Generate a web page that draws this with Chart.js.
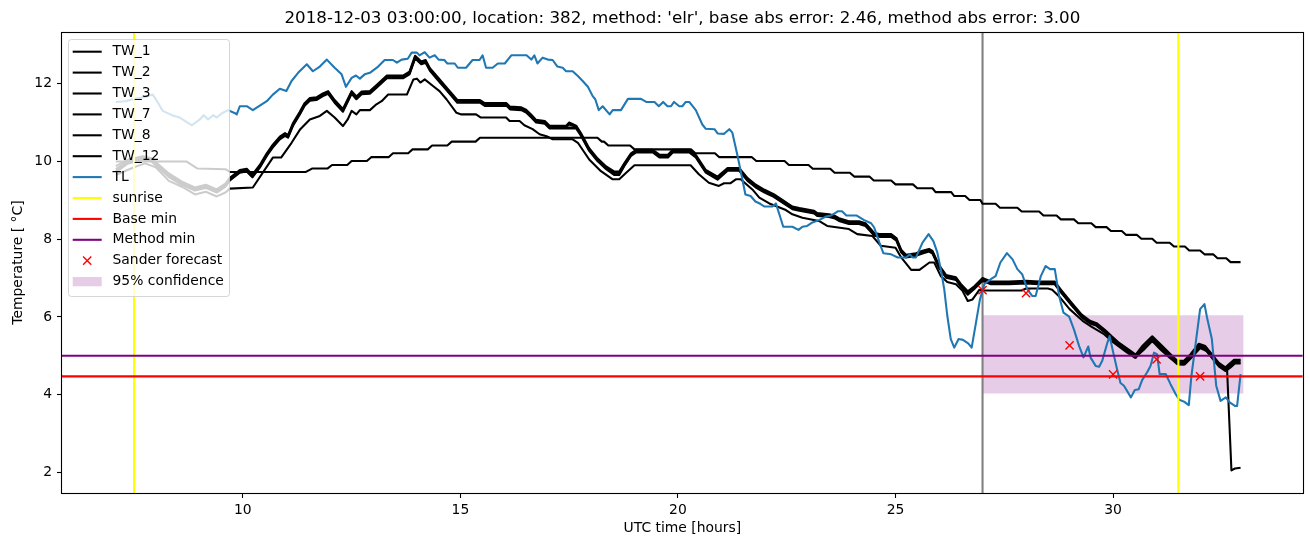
<!DOCTYPE html>
<html>
<head>
<meta charset="utf-8">
<title>Forecast 2018-12-03 location 382</title>
<script src="https://cdn.jsdelivr.net/npm/chart.js@4.4.1/dist/chart.umd.min.js"></script>
<style>
  html, body { margin: 0; padding: 0; background: #fff; }
  canvas { display: block; }
</style>
</head>
<body>
<canvas id="chart" width="1310" height="547"></canvas>
<script>
const TITLE = "2018-12-03 03:00:00, location: 382, method: 'elr', base abs error: 2.46, method abs error: 3.00";

// axis ranges and ticks (hours, deg C)
const X_MIN = 5.844, X_MAX = 34.36;
const Y_MIN = 1.47, Y_MAX = 13.33;
const X_TICKS = [10, 15, 20, 25, 30];
const Y_TICKS = [2, 4, 6, 8, 10, 12];

// shared time axis of the four bundled sensors
const T_BUNDLE = [
  7.08, 7.35, 7.7, 7.9, 8.3, 8.6, 8.9, 9.15, 9.4, 9.6,
  9.7, 9.93, 10.09, 10.22, 10.39, 10.55, 10.69, 10.85, 10.97, 11.04,
  11.15, 11.31, 11.42, 11.54, 11.69, 11.84, 11.96, 12.11, 12.3, 12.5,
  12.61, 12.73, 12.92, 13.08, 13.31, 13.68, 13.83, 13.96, 14.1, 14.2,
  14.3, 14.5, 14.7, 14.93, 15.45, 15.56, 16.06, 16.14, 16.4, 16.51,
  16.63, 16.74, 16.94, 17.05, 17.43, 17.5, 17.66, 17.77, 17.96, 18.15,
  18.35, 18.54, 18.65, 18.77, 18.92, 19.04, 19.42, 19.58, 19.77, 19.88,
  20.26, 20.41, 20.64, 20.91, 21.14, 21.41, 21.6, 21.79, 21.99, 22.2,
  22.4, 22.63, 22.79, 23.13, 23.2, 23.47, 23.59, 23.7, 23.93, 24.16,
  24.31, 24.51, 24.63, 24.9, 25.02, 25.13, 25.24, 25.47, 25.62, 25.77,
  25.85, 26.0, 26.16, 26.39, 26.5, 26.66, 26.81, 27.0, 27.19, 27.6,
  28.0, 28.3, 28.66, 28.8, 29.05, 29.28, 29.47, 29.62, 29.81, 29.97,
  30.14, 30.36, 30.52, 30.67, 30.9, 31.13, 31.32, 31.47, 31.63, 31.78,
  31.97, 32.12, 32.27, 32.43, 32.58, 32.66, 32.78, 32.93
];
const TW_1 = [
  9.8, 10.0, 10.1, 10.05, 9.65, 9.45, 9.3, 9.37, 9.25, 9.4,
  9.55, 9.75, 9.78, 9.63, 9.88, 10.18, 10.4, 10.61, 10.7, 10.65,
  10.95, 11.25, 11.47, 11.6, 11.62, 11.72, 11.78, 11.55, 11.32, 11.78,
  11.64, 11.77, 11.78, 11.94, 12.18, 12.18, 12.28, 12.69, 12.54, 12.58,
  12.37, 12.11, 11.85, 11.55, 11.55, 11.47, 11.47, 11.38, 11.36, 11.3,
  11.17, 11.04, 11.01, 10.89, 10.89, 10.95, 10.89, 10.7, 10.31, 10.05,
  9.84, 9.71, 9.71, 9.93, 10.18, 10.27, 10.27, 10.14, 10.14, 10.27,
  10.27, 10.14, 9.75, 9.58, 9.8, 9.8, 9.54, 9.37, 9.24, 9.13,
  8.98, 8.81, 8.77, 8.7, 8.64, 8.61, 8.58, 8.51, 8.43, 8.43,
  8.38, 8.13, 8.1, 8.1, 8.0, 7.7, 7.57, 7.61, 7.67, 7.72,
  7.67, 7.3, 7.05, 6.99, 6.82, 6.63, 6.76, 6.97, 6.88, 6.88,
  6.9, 6.88, 6.88, 6.67, 6.33, 6.03, 5.87, 5.81, 5.64, 5.47,
  5.3, 5.13, 5.0, 5.21, 5.45, 5.21, 5.0, 4.84, 4.83, 5.0,
  5.27, 5.21, 5.0, 4.78, 4.66, 4.74, 4.87, 4.87
];
const TW_2 = [
  9.88, 10.04, 10.13, 10.08, 9.69, 9.48, 9.33, 9.4, 9.28, 9.43,
  9.58, 9.78, 9.81, 9.66, 9.91, 10.21, 10.43, 10.64, 10.73, 10.68,
  10.98, 11.28, 11.5, 11.63, 11.65, 11.75, 11.81, 11.58, 11.35, 11.81,
  11.67, 11.8, 11.81, 11.97, 12.21, 12.21, 12.31, 12.72, 12.57, 12.61,
  12.4, 12.14, 11.88, 11.58, 11.58, 11.5, 11.5, 11.41, 11.39, 11.33,
  11.2, 11.07, 11.04, 10.92, 10.92, 11.0, 10.92, 10.73, 10.34, 10.08,
  9.87, 9.74, 9.74, 9.96, 10.21, 10.3, 10.3, 10.17, 10.17, 10.3,
  10.3, 10.17, 9.78, 9.61, 9.83, 9.83, 9.57, 9.4, 9.27, 9.16,
  9.01, 8.84, 8.8, 8.73, 8.67, 8.64, 8.61, 8.54, 8.46, 8.46,
  8.41, 8.16, 8.13, 8.13, 8.03, 7.73, 7.6, 7.64, 7.7, 7.75,
  7.7, 7.33, 7.08, 7.02, 6.85, 6.66, 6.79, 7.0, 6.91, 6.91,
  6.93, 6.91, 6.91, 6.7, 6.36, 6.06, 5.9, 5.84, 5.67, 5.5,
  5.33, 5.16, 5.03, 5.25, 5.5, 5.25, 5.04, 4.88, 4.87, 5.04,
  5.31, 5.25, 5.04, 4.82, 4.7, 4.78, 4.9, 4.9
];
const TW_3 = [
  9.72, 9.94, 10.05, 10.0, 9.6, 9.4, 9.25, 9.32, 9.2, 9.35,
  9.51, 9.71, 9.74, 9.59, 9.84, 10.14, 10.36, 10.57, 10.66, 10.61,
  10.91, 11.21, 11.43, 11.56, 11.58, 11.68, 11.74, 11.51, 11.28, 11.74,
  11.6, 11.73, 11.74, 11.9, 12.14, 12.14, 12.24, 12.65, 12.5, 12.54,
  12.33, 12.07, 11.81, 11.51, 11.51, 11.43, 11.43, 11.34, 11.32, 11.26,
  11.13, 11.0, 10.97, 10.85, 10.85, 10.85, 10.85, 10.66, 10.27, 10.01,
  9.8, 9.65, 9.65, 9.89, 10.14, 10.23, 10.23, 10.1, 10.1, 10.23,
  10.23, 10.1, 9.71, 9.53, 9.76, 9.76, 9.5, 9.33, 9.2, 9.09,
  8.94, 8.77, 8.73, 8.66, 8.6, 8.57, 8.54, 8.47, 8.39, 8.39,
  8.34, 8.09, 8.06, 8.06, 7.96, 7.66, 7.53, 7.57, 7.63, 7.68,
  7.63, 7.26, 7.01, 6.95, 6.78, 6.57, 6.72, 6.93, 6.84, 6.84,
  6.86, 6.84, 6.84, 6.63, 6.29, 5.99, 5.83, 5.77, 5.6, 5.43,
  5.26, 5.09, 4.95, 5.16, 5.4, 5.16, 4.95, 4.79, 4.78, 4.95,
  5.22, 5.16, 4.95, 4.73, 4.61, 4.69, 4.82, 4.82
];
// TW_12 follows the bundle and then drops at the very end
const T_TW12 = T_BUNDLE.slice(0, 135).concat([32.62, 32.72, 32.8, 32.93]);
const TW_12 = [
  9.75, 9.97, 10.08, 10.02, 9.62, 9.42, 9.27, 9.34, 9.22, 9.37,
  9.52, 9.73, 9.76, 9.61, 9.86, 10.16, 10.38, 10.59, 10.68, 10.63,
  10.93, 11.23, 11.45, 11.58, 11.6, 11.7, 11.76, 11.53, 11.3, 11.76,
  11.62, 11.75, 11.76, 11.92, 12.16, 12.16, 12.26, 12.67, 12.52, 12.56,
  12.35, 12.09, 11.83, 11.53, 11.53, 11.45, 11.45, 11.36, 11.34, 11.28,
  11.15, 11.02, 10.99, 10.87, 10.87, 10.87, 10.87, 10.68, 10.29, 10.03,
  9.82, 9.67, 9.67, 9.9, 10.16, 10.25, 10.25, 10.12, 10.12, 10.25,
  10.25, 10.12, 9.73, 9.55, 9.78, 9.78, 9.52, 9.35, 9.22, 9.11,
  8.96, 8.79, 8.75, 8.68, 8.62, 8.59, 8.56, 8.49, 8.41, 8.41,
  8.36, 8.11, 8.08, 8.08, 7.98, 7.68, 7.55, 7.59, 7.65, 7.7,
  7.65, 7.28, 7.03, 6.97, 6.8, 6.6, 6.74, 6.95, 6.86, 6.86,
  6.88, 6.86, 6.86, 6.65, 6.31, 6.01, 5.85, 5.79, 5.62, 5.45,
  5.28, 5.11, 4.97, 5.19, 5.43, 5.19, 4.98, 4.82, 4.81, 4.98,
  5.25, 5.19, 4.98, 4.76, 4.64, 4.64, 2.05, 2.1, 2.12
];
// TW_7: the lower warm-phase sensor
const T_TW7 = [
  7.08, 7.5, 7.75, 8.0, 8.3, 8.6, 8.9, 9.15, 9.4, 9.6,
  9.7, 10.23, 10.69, 10.88, 11.12, 11.32, 11.54, 11.77, 11.93, 12.11,
  12.3, 12.41, 12.5, 12.61, 12.69, 12.92, 13.07, 13.19, 13.34, 13.77,
  13.92, 14.0, 14.08, 14.18, 14.37, 14.52, 14.68, 14.91, 15.02, 15.36,
  15.47, 16.05, 16.13, 16.36, 16.47, 16.66, 16.82, 16.98, 17.12, 17.58,
  17.7, 17.96, 18.23, 18.5, 18.65, 18.81, 19.0, 20.29, 20.48, 20.71,
  20.94, 21.06, 21.21, 21.33, 21.44, 21.71, 21.87, 22.1, 22.48, 22.63,
  22.86, 23.24, 23.43, 23.93, 24.12, 24.47, 24.66, 25.0, 25.13, 25.36,
  25.55, 25.78, 25.89, 26.04, 26.19, 26.39, 26.54, 26.66, 26.77, 26.93,
  27.05, 27.9, 28.0, 28.5, 28.6, 28.75, 29.0, 29.3, 29.5, 29.8,
  30.0, 30.3, 30.5, 30.7, 30.9, 31.1, 31.3, 31.5, 31.65, 31.8,
  32.0, 32.15, 32.3, 32.45, 32.6, 32.7, 32.8, 32.93
];
const TW_7 = [
  9.65, 9.85, 9.95, 9.85, 9.5, 9.35, 9.15, 9.22, 9.1, 9.2,
  9.3, 9.33, 10.1, 10.1, 10.48, 10.83, 11.08, 11.17, 11.3, 11.13,
  10.91, 11.08, 11.3, 11.21, 11.32, 11.32, 11.47, 11.55, 11.72, 11.72,
  12.11, 12.13, 12.03, 12.11, 11.94, 11.81, 11.6, 11.25, 11.21, 11.21,
  11.13, 11.13, 11.04, 11.04, 10.93, 10.83, 10.7, 10.65, 10.57, 10.57,
  10.48, 10.05, 9.75, 9.54, 9.54, 9.71, 9.9, 9.9, 9.67, 9.45,
  9.37, 9.44, 9.44, 9.54, 9.54, 9.28, 9.07, 8.92, 8.75, 8.64,
  8.55, 8.47, 8.34, 8.26, 8.13, 8.08, 7.83, 7.78, 7.53, 7.21,
  7.21, 7.4, 7.4, 7.05, 6.9, 6.84, 6.67, 6.41, 6.45, 6.7,
  6.68, 6.68, 6.73, 6.73, 6.7, 6.54, 6.2, 5.9, 5.75, 5.55,
  5.35, 5.1, 4.95, 5.15, 5.38, 5.15, 4.95, 4.78, 4.78, 4.95,
  5.2, 5.12, 4.95, 4.72, 4.62, 4.7, 4.8, 4.8
];
// TW_8: the slow, damped sensor
const T_TW8 = [
  7.08, 8.7, 8.95, 9.6, 9.7, 11.45, 11.6, 11.95, 12.05, 12.4,
  12.5, 12.85, 12.95, 13.35, 13.45, 13.8, 13.9, 14.25, 14.35, 14.7,
  14.8, 15.35, 15.45, 18.15, 18.25, 18.3, 18.4, 18.9, 19.0, 20.3,
  20.4, 20.85, 20.95, 21.7, 21.8, 22.45, 22.55, 23.0, 23.1, 23.5,
  23.6, 23.95, 24.05, 24.4, 24.5, 24.9, 25.0, 25.4, 25.5, 25.85,
  25.92, 26.28, 26.35, 26.6, 26.7, 26.95, 27.0, 27.3, 27.4, 27.8,
  27.9, 28.3, 28.4, 28.7, 28.8, 29.1, 29.2, 29.5, 29.6, 29.85,
  29.95, 30.2, 30.3, 30.55, 30.65, 30.9, 31.0, 31.3, 31.4, 31.65,
  31.75, 32.0, 32.1, 32.3, 32.4, 32.6, 32.7, 32.93
];
const TW_8 = [
  10.0, 10.0, 9.82, 9.8, 9.73, 9.73, 9.82, 9.82, 9.91, 9.91,
  10.01, 10.01, 10.11, 10.11, 10.21, 10.21, 10.31, 10.31, 10.41, 10.41,
  10.51, 10.51, 10.61, 10.61, 10.51, 10.51, 10.41, 10.41, 10.31, 10.31,
  10.21, 10.21, 10.11, 10.11, 10.01, 10.01, 9.91, 9.91, 9.81, 9.81,
  9.71, 9.71, 9.61, 9.61, 9.51, 9.51, 9.41, 9.41, 9.31, 9.31,
  9.21, 9.21, 9.11, 9.11, 9.01, 9.01, 8.91, 8.91, 8.81, 8.81,
  8.71, 8.71, 8.61, 8.61, 8.51, 8.51, 8.41, 8.41, 8.31, 8.31,
  8.21, 8.21, 8.11, 8.11, 8.01, 8.01, 7.91, 7.91, 7.81, 7.81,
  7.71, 7.71, 7.61, 7.61, 7.51, 7.51, 7.41, 7.41
];
// TL: air temperature
const T_TL = [
  7.08, 7.3, 7.52, 7.67, 7.82, 7.93, 8.05, 8.16, 8.37, 8.55,
  8.83, 9.01, 9.1, 9.2, 9.32, 9.4, 9.52, 9.66, 9.82, 9.86,
  9.93, 10.09, 10.23, 10.55, 10.69, 10.85, 11.0, 11.12, 11.27, 11.47,
  11.61, 11.77, 11.93, 12.11, 12.27, 12.37, 12.5, 12.6, 12.69, 12.8,
  12.92, 13.11, 13.26, 13.45, 13.54, 13.65, 13.79, 13.88, 14.0, 14.06,
  14.18, 14.29, 14.41, 14.5, 14.63, 14.7, 14.87, 14.94, 15.13, 15.28,
  15.44, 15.51, 15.59, 15.74, 15.86, 16.02, 16.17, 16.52, 16.63, 16.7,
  16.77, 16.89, 17.01, 17.12, 17.23, 17.35, 17.43, 17.58, 17.7, 17.81,
  17.93, 18.04, 18.1, 18.18, 18.27, 18.43, 18.5, 18.69, 18.85, 19.15,
  19.27, 19.46, 19.56, 19.66, 19.76, 19.84, 19.91, 20.03, 20.1, 20.18,
  20.26, 20.41, 20.56, 20.64, 20.84, 20.91, 21.06, 21.18, 21.25, 21.37,
  21.48, 21.55, 21.67, 21.78, 21.89, 21.99, 22.17, 22.25, 22.33, 22.42,
  22.63, 22.77, 22.86, 22.97, 23.09, 23.24, 23.4, 23.52, 23.61, 23.68,
  23.77, 23.87, 24.1, 24.28, 24.44, 24.51, 24.63, 24.72, 24.9, 25.05,
  25.24, 25.33, 25.39, 25.47, 25.62, 25.76, 25.87, 25.96, 26.04, 26.12,
  26.19, 26.27, 26.35, 26.45, 26.55, 26.67, 26.75, 26.85, 26.94, 27.04,
  27.19, 27.3, 27.41, 27.56, 27.69, 27.8, 27.91, 28.03, 28.14, 28.22,
  28.34, 28.45, 28.55, 28.66, 28.76, 28.86, 28.99, 29.1, 29.22, 29.32,
  29.43, 29.48, 29.6, 29.68, 29.75, 29.87, 29.92, 30.0, 30.09, 30.17,
  30.25, 30.41, 30.5, 30.59, 30.67, 30.78, 30.86, 30.94, 31.01, 31.07,
  31.21, 31.32, 31.44, 31.52, 31.63, 31.74, 31.8, 31.9, 32.0, 32.1,
  32.16, 32.27, 32.32, 32.37, 32.47, 32.59, 32.68, 32.8, 32.85, 32.93
];
const TL = [
  11.53, 11.55, 11.61, 11.64, 11.68, 11.72, 11.51, 11.3, 11.19, 11.13,
  10.93, 11.08, 11.19, 11.08, 11.19, 11.13, 11.24, 11.32, 11.24, 11.21,
  11.42, 11.42, 11.32, 11.55, 11.72, 11.87, 11.81, 12.07, 12.28, 12.5,
  12.32, 12.44, 12.62, 12.41, 12.24, 11.92, 12.15, 12.21, 12.13, 12.24,
  12.28, 12.44, 12.61, 12.61, 12.54, 12.62, 12.64, 12.8, 12.8, 12.73,
  12.81, 12.67, 12.73, 12.62, 12.61, 12.52, 12.52, 12.41, 12.41, 12.61,
  12.61, 12.73, 12.41, 12.41, 12.52, 12.52, 12.73, 12.73, 12.62, 12.73,
  12.52, 12.67, 12.62, 12.61, 12.44, 12.41, 12.32, 12.32, 12.2, 12.07,
  11.92, 11.68, 11.6, 11.32, 11.42, 11.21, 11.32, 11.32, 11.61, 11.61,
  11.53, 11.53, 11.42, 11.53, 11.42, 11.42, 11.53, 11.42, 11.42, 11.53,
  11.53, 11.32, 10.95, 10.84, 10.83, 10.72, 10.71, 10.83, 10.74, 10.14,
  9.54, 9.15, 9.11, 8.97, 8.91, 8.84, 8.84, 8.92, 8.64, 8.32,
  8.32, 8.24, 8.32, 8.34, 8.43, 8.49, 8.58, 8.61, 8.67, 8.72,
  8.72, 8.61, 8.61, 8.49, 8.41, 8.3, 7.91, 7.64, 7.61, 7.53,
  7.53, 7.61, 7.53, 7.53, 7.91, 8.13, 7.95, 7.66, 7.23, 6.71,
  6.03, 5.43, 5.21, 5.43, 5.41, 5.32, 5.21, 5.86, 6.45, 6.84,
  6.97, 7.05, 7.4, 7.64, 7.48, 7.23, 7.1, 6.71, 6.54, 6.54,
  7.05, 7.31, 7.23, 7.23, 6.54, 6.11, 6.01, 5.68, 5.25, 4.96,
  5.24, 4.96, 4.74, 4.72, 4.87, 5.34, 5.51, 5.1, 4.66, 4.3,
  4.23, 3.93, 4.12, 4.14, 4.38, 4.57, 4.74, 5.08, 5.04, 4.53,
  4.53, 4.27, 4.01, 3.87, 3.82, 3.73, 4.48, 5.34, 6.2, 6.33,
  5.98, 5.43, 4.83, 4.23, 3.84, 3.93, 3.8, 3.71, 3.71, 4.53
];

const SUNRISE = [7.5, 31.5];
const FORECAST_START = 27;
const BASE_MIN = 4.47;
const METHOD_MIN = 5.0;
const SANDER_X = [27, 28, 29, 30, 31, 32];
const SANDER_Y = [6.69, 6.61, 5.27, 4.52, 4.91, 4.47];
const CONF_X = [27, 33];
const CONF_LO = 4.03, CONF_HI = 6.04;

const LEGEND_LABELS = ['TW_1', 'TW_2', 'TW_3', 'TW_7', 'TW_8', 'TW_12', 'TL',
  'sunrise', 'Base min', 'Method min', 'Sander forecast', '95% confidence'];

const LW = 2.08; // 1.5pt lines

function pts(t, v) {
  return t.map((x, i) => ({ x: x, y: v[i] }));
}

function lineSet(label, t, v, color, order) {
  return {
    label: label,
    data: pts(t, v),
    borderColor: color,
    backgroundColor: color,
    borderWidth: LW,
    borderJoinStyle: 'round',
    pointRadius: 0,
    fill: false,
    order: order
  };
}

const datasets = [
  {
    label: '95% confidence',
    data: [{ x: CONF_X[0], y: CONF_HI }, { x: CONF_X[1], y: CONF_HI }],
    fill: { value: CONF_LO },
    backgroundColor: 'rgba(128,0,128,0.2)',
    borderColor: 'rgba(0,0,0,0)',
    borderWidth: 0,
    pointRadius: 0,
    order: 100
  },
  lineSet('forecast start', [FORECAST_START, FORECAST_START], [Y_MIN, Y_MAX], '#808080', 90),
  lineSet('TW_1', T_BUNDLE, TW_1, '#000000', 80),
  lineSet('TW_2', T_BUNDLE, TW_2, '#000000', 80),
  lineSet('TW_3', T_BUNDLE, TW_3, '#000000', 80),
  lineSet('TW_7', T_TW7, TW_7, '#000000', 80),
  lineSet('TW_8', T_TW8, TW_8, '#000000', 80),
  lineSet('TW_12', T_TW12, TW_12, '#000000', 80),
  lineSet('TL', T_TL, TL, '#1f77b4', 70),
  lineSet('sunrise', [SUNRISE[0], SUNRISE[0]], [Y_MIN, Y_MAX], '#ffff00', 60),
  lineSet('sunrise 2', [SUNRISE[1], SUNRISE[1]], [Y_MIN, Y_MAX], '#ffff00', 60),
  lineSet('Base min', [X_MIN, X_MAX], [BASE_MIN, BASE_MIN], '#ff0000', 50),
  lineSet('Method min', [X_MIN, X_MAX], [METHOD_MIN, METHOD_MIN], '#800080', 40),
  {
    label: 'Sander forecast',
    data: pts(SANDER_X, SANDER_Y),
    showLine: false,
    pointStyle: 'crossRot',
    pointRadius: 5.8,
    pointHoverRadius: 5.8,
    pointBorderWidth: 1.4,
    borderColor: '#ff0000',
    backgroundColor: '#ff0000',
    order: 30
  }
];

function drawLegend(ctx, chart) {
  const x0 = 68.5, y0 = 39.5, w = 161, h = 257, r = 3;
  ctx.beginPath();
  ctx.moveTo(x0 + r, y0);
  ctx.arcTo(x0 + w, y0, x0 + w, y0 + h, r);
  ctx.arcTo(x0 + w, y0 + h, x0, y0 + h, r);
  ctx.arcTo(x0, y0 + h, x0, y0, r);
  ctx.arcTo(x0, y0, x0 + w, y0, r);
  ctx.closePath();
  ctx.fillStyle = 'rgba(255,255,255,0.8)';
  ctx.fill();
  ctx.strokeStyle = 'rgba(204,204,204,0.8)';
  ctx.lineWidth = 1;
  ctx.stroke();

  ctx.font = '13.9px "DejaVu Sans"';
  ctx.textAlign = 'left';
  ctx.textBaseline = 'middle';
  LEGEND_LABELS.forEach((label, i) => {
    const ds = chart.data.datasets.find(d => d.label === label);
    const cy = 51.7 + i * 20.9;
    if (ds.showLine === false) {
      const cx = 87.2, s = 4.1;
      ctx.strokeStyle = ds.borderColor;
      ctx.lineWidth = 1.4;
      ctx.beginPath();
      ctx.moveTo(cx - s, cy - s); ctx.lineTo(cx + s, cy + s);
      ctx.moveTo(cx - s, cy + s); ctx.lineTo(cx + s, cy - s);
      ctx.stroke();
    } else if (ds.fill) {
      ctx.fillStyle = ds.backgroundColor;
      ctx.fillRect(72.7, cy - 4.6, 29, 9.3);
    } else {
      ctx.strokeStyle = ds.borderColor;
      ctx.lineWidth = LW;
      ctx.beginPath();
      ctx.moveTo(72.7, cy); ctx.lineTo(101.7, cy);
      ctx.stroke();
    }
    ctx.fillStyle = '#000';
    ctx.fillText(label, 112.5, cy);
  });
}

const frameTitleLegend = {
  id: 'frameTitleLegend',
  afterDatasetsDraw(chart) {
    const { ctx, chartArea: a } = chart;
    const x1 = Math.round(a.left) - 0.5, y1 = Math.round(a.top) + 0.5;
    const x2 = Math.round(a.right) + 0.5, y2 = Math.round(a.bottom) + 0.5;
    ctx.save();
    ctx.strokeStyle = '#000';
    ctx.lineWidth = 1.1;
    ctx.strokeRect(x1, y1, x2 - x1, y2 - y1);
    ctx.restore();
  },
  afterDraw(chart) {
    const { ctx, chartArea: a } = chart;
    ctx.save();
    ctx.fillStyle = '#000';
    ctx.font = '16.7px "DejaVu Sans"';
    ctx.textAlign = 'center';
    ctx.textBaseline = 'alphabetic';
    ctx.fillText(TITLE, (a.left + a.right) / 2, 23);
    drawLegend(ctx, chart);
    ctx.restore();
  }
};

Chart.defaults.font.family = "'DejaVu Sans', sans-serif";
Chart.defaults.font.size = 13.9;
Chart.defaults.color = '#000';

const tickGrid = { display: true, drawOnChartArea: false, drawTicks: true, tickLength: 5, tickColor: '#000', tickWidth: 1.1 };

new Chart(document.getElementById('chart'), {
  type: 'line',
  data: { datasets: datasets },
  options: {
    responsive: false,
    animation: false,
    devicePixelRatio: 1,
    layout: { padding: { top: 32, right: 6, left: 0, bottom: 0 } },
    plugins: {
      legend: { display: false },
      tooltip: { enabled: false },
      title: { display: false }
    },
    elements: { line: { tension: 0 }, point: { radius: 0 } },
    scales: {
      x: {
        type: 'linear',
        min: X_MIN,
        max: X_MAX,
        afterBuildTicks: s => { s.ticks = X_TICKS.map(v => ({ value: v })); },
        afterFit: s => { s.height = 54; },
        grid: tickGrid,
        border: { display: false },
        ticks: { padding: 4, maxRotation: 0, autoSkip: false, callback: v => String(v) },
        title: { display: true, text: 'UTC time [hours]', padding: { top: 0, bottom: 10 } }
      },
      y: {
        type: 'linear',
        min: Y_MIN,
        max: Y_MAX,
        afterBuildTicks: s => { s.ticks = Y_TICKS.map(v => ({ value: v })); },
        afterFit: s => { s.width = 62; },
        grid: tickGrid,
        border: { display: false },
        ticks: { padding: 5, autoSkip: false, callback: v => String(v) },
        title: { display: true, text: 'Temperature [ °C]', padding: { top: 10, bottom: 0 } }
      }
    }
  },
  plugins: [frameTitleLegend]
});
</script>
</body>
</html>
